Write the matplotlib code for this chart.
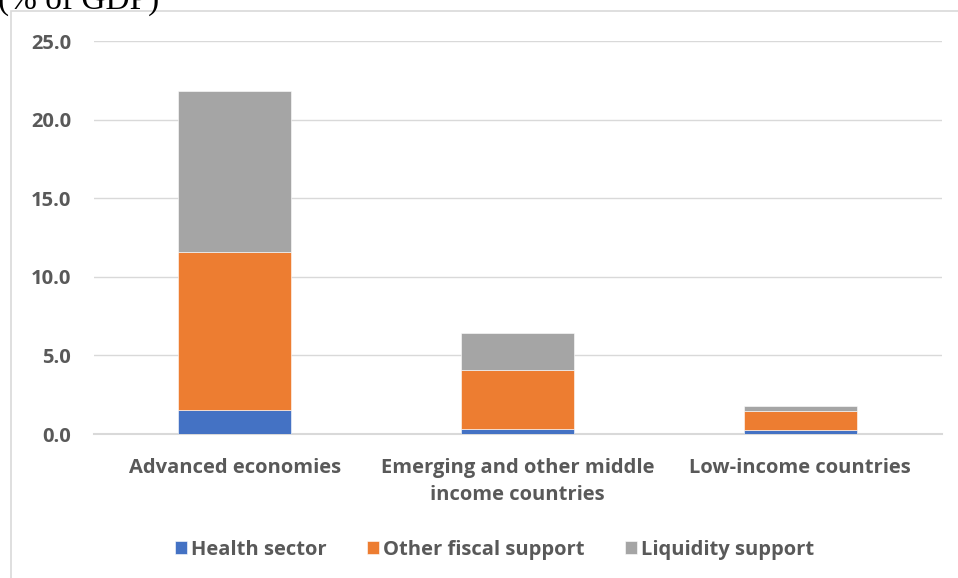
import numpy as np
import matplotlib.pyplot as plt
from matplotlib.patches import Rectangle

categories = ["Advanced economies", "Emerging and other middle\nincome countries", "Low-income countries"]
health = [1.5, 0.3, 0.25]
other_fiscal = [10.1, 3.8, 1.2]
liquidity = [10.2, 2.3, 0.35]
series_names = ["Health sector", "Other fiscal support", "Liquidity support"]
colors = ["#4472C4", "#ED7D31", "#A5A5A5"]
yticks = [0, 5, 10, 15, 20, 25]

plt.rcParams['font.family'] = ['Open Sans', 'DejaVu Sans']

fig = plt.figure(figsize=(9.58, 5.78), dpi=100)
ax = fig.add_axes([0.0976, 0.249, 0.8852, 0.680])

x = np.arange(len(categories))
bottom = np.zeros(len(categories))
for vals, name, c in zip([health, other_fiscal, liquidity], series_names, colors):
    ax.bar(x, vals, 0.4, bottom=bottom, color=c, label=name, edgecolor='white', linewidth=0.4, zorder=3)
    bottom += np.array(vals)

ax.set_xlim(-0.5, len(categories) - 0.5)
ax.set_ylim(0, 25)
ax.set_yticks(yticks)
ax.set_yticklabels([f"{v:.1f}" for v in yticks])
ax.set_xticks(x)
ax.set_xticklabels(categories, linespacing=1.5)
ax.grid(axis='y', color='#d9d9d9', linewidth=1, zorder=0)
for s in ['top', 'right', 'left']:
    ax.spines[s].set_visible(False)
ax.spines['bottom'].set_color('#d9d9d9')
ax.spines['bottom'].set_linewidth(1.5)
ax.tick_params(axis='both', length=0, labelsize=14.5, colors='#595959')
ax.tick_params(axis='y', pad=16)
ax.tick_params(axis='x', pad=17)
for lbl in ax.get_xticklabels() + ax.get_yticklabels():
    lbl.set_fontweight('bold')

leg = fig.legend(loc='center', bbox_to_anchor=(0.516, 0.049), ncol=3, frameon=False,
                 handlelength=0.6, handleheight=0.6, handletextpad=0.2, columnspacing=2.0,
                 prop={'weight': 'bold', 'size': 14.5})
for t in leg.get_texts():
    t.set_color('#595959')

# chart border
fig.patches.append(Rectangle((11 / 958, -0.01), 1.0, 1 - 11 / 578 + 0.01, transform=fig.transFigure,
                             fill=False, edgecolor='#d9d9d9', linewidth=1.2))

fig.text(-0.002, 1 - 9 / 578, "(% of GDP)", family='Liberation Serif', fontsize=24,
         va='baseline', ha='left', color='black')

fig.savefig("out.png", dpi=100)
